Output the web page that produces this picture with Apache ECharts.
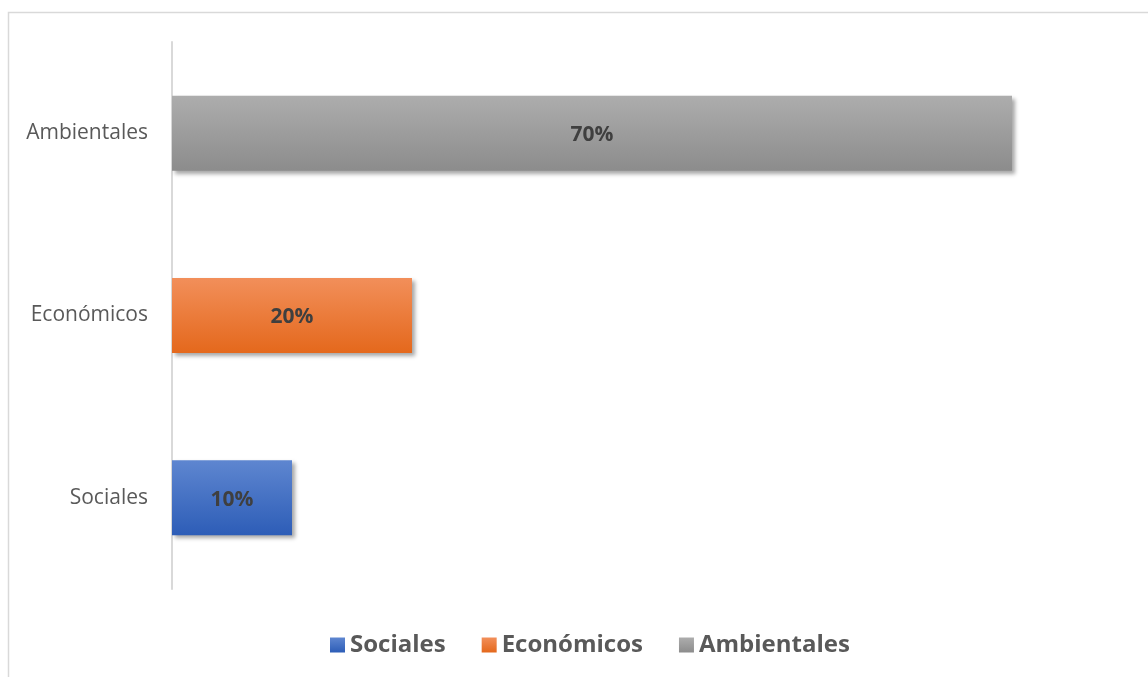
<!DOCTYPE html>
<html>
<head>
<meta charset="utf-8">
<script src="https://cdn.jsdelivr.net/npm/echarts@6/dist/echarts.min.js"></script>
<style>
  html, body { margin: 0; padding: 0; background: #fff; }
  #chart { width: 1148px; height: 677px; }
</style>
</head>
<body>
<div id="chart"></div>
<script>
// Categories (bottom to top) and their shares in percent
const categories = ['Sociales', 'Económicos', 'Ambientales'];
const shares = [10, 20, 70];
// Vertical gradient stops per series: [top, bottom]
const gradients = [
  ['#5E86D0', '#2D5DB7'],
  ['#F28F5A', '#E4681C'],
  ['#ADADAD', '#8C8C8C']
];

const FONT = '"Open Sans", "Noto Sans", sans-serif';

function grad(stops) {
  return new echarts.graphic.LinearGradient(0, 0, 0, 1, [
    { offset: 0, color: stops[0] },
    { offset: 1, color: stops[1] }
  ]);
}

// One series per category so each gets its own legend entry; stacking keeps bars centred
const series = categories.map((name, i) => ({
  name: name,
  type: 'bar',
  stack: 'total',
  barWidth: 75,
  data: categories.map((_, j) => (j === i ? shares[i] : '-')),
  itemStyle: {
    color: grad(gradients[i]),
    shadowColor: 'rgba(0,0,0,0.35)',
    shadowBlur: 4,
    shadowOffsetX: 3,
    shadowOffsetY: 3
  },
  label: {
    show: true,
    position: 'inside',
    offset: [0, 2],
    formatter: '{c}%',
    fontFamily: FONT,
    fontWeight: 'bold',
    fontSize: 21,
    color: '#3f3f3f'
  }
}));

const chart = echarts.init(document.getElementById('chart'), null, { renderer: 'canvas' });
chart.setOption({
  animation: false,
  backgroundColor: '#ffffff',
  graphic: [{
    type: 'rect',
    shape: { x: 8.5, y: 12.5, width: 1200, height: 700 },
    style: { fill: 'none', stroke: '#d9d9d9', lineWidth: 1.5 },
    silent: true
  }],
  grid: { left: 172, right: 16, top: 42, bottom: 88 },
  xAxis: {
    type: 'value',
    min: 0,
    max: 80,
    show: false
  },
  yAxis: {
    type: 'category',
    data: categories,
    axisLine: { show: true, lineStyle: { color: '#d9d9d9', width: 2 } },
    axisTick: { show: false },
    axisLabel: {
      margin: 24,
      fontFamily: FONT,
      fontSize: 21,
      color: '#595959',
      padding: [3, 0, 0, 0]
    }
  },
  legend: {
    bottom: 15,
    left: 325,
    icon: 'rect',
    itemWidth: 15,
    itemHeight: 15,
    itemGap: 36,
    textStyle: {
      fontFamily: FONT,
      fontWeight: 'bold',
      fontSize: 24,
      color: '#595959',
      padding: [0, 0, 0, 0]
    },
    data: categories
  },
  series: series
});
</script>
</body>
</html>
